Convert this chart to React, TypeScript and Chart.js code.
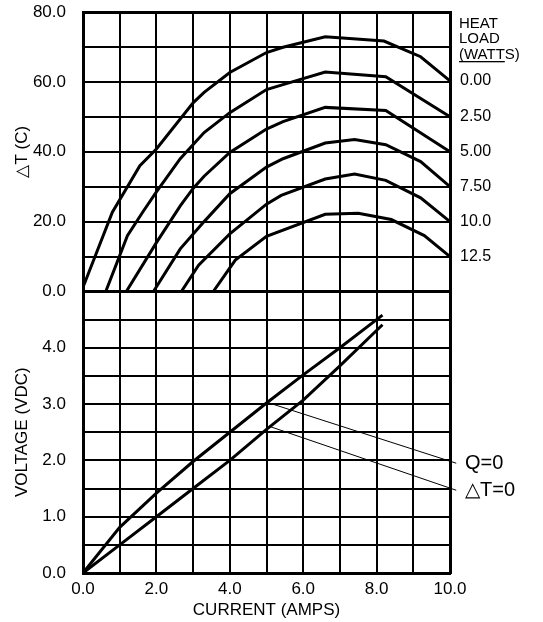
import React, { useEffect, useRef } from 'react';
import { Chart, registerables } from 'chart.js';

Chart.register(...registerables);

const FONT = "'Liberation Sans', Arial, Helvetica, sans-serif";

// Tick labels
const currentTickLabels = ['0.0', '', '2.0', '', '4.0', '', '6.0', '', '8.0', '', '10.0'];
const deltaTTickLabels = ['0.0', '', '20.0', '', '40.0', '', '60.0', '', '80.0'];
const voltageTickLabels = ['0.0', '', '1.0', '', '2.0', '', '3.0', '', '4.0', '', ''];
const heatLoadLabels = ['0.00', '2.50', '5.00', '7.50', '10.0', '12.5'];
const heatTitleLines = ['HEAT', 'LOAD', '(WATTS)'];
const heatTitleUnderlined = '(WATT';
const leaderLabels = ['Q=0', '\u25B3T=0'];

// ΔT (C) vs current (A) for each heat load
const dtLoad000: number[][] = [[0, 1.2], [0.8, 22.7], [1.55, 36], [2.0, 40.8], [3.0, 54], [3.3, 57], [4.0, 62.7], [5.0, 68.4], [5.45, 69.9], [6.6, 72.9], [8.2, 71.7], [9.2, 67.2], [10, 60.3]];
const dtLoad250: number[][] = [[0.62, 0], [1.21, 16], [1.62, 22.6], [2.0, 28.5], [2.65, 38], [3.3, 45.5], [4.0, 51.2], [5.0, 57.8], [5.45, 59.2], [6.6, 62.8], [8.25, 61.5], [10, 50]];
const dtLoad500: number[][] = [[1.18, 0], [2.0, 14], [2.65, 24.5], [3.0, 29.5], [3.3, 33], [4.0, 39.8], [5.0, 46.5], [5.45, 48.6], [6.6, 52.7], [8.25, 51.8], [10, 40]];
const dtLoad750: number[][] = [[1.92, 0], [2.65, 12.2], [3.3, 20], [4.0, 28], [5.0, 35.6], [5.45, 38], [6.6, 42.5], [7.4, 43.5], [8.25, 42], [9.2, 37.2], [10, 30]];
const dtLoad1000: number[][] = [[2.68, 0], [3.15, 7.5], [4.0, 16.5], [5.0, 25], [5.4, 27.5], [6.6, 32.2], [7.4, 33.6], [8.25, 31.8], [9.2, 26.8], [10, 20]];
const dtLoad1250: number[][] = [[3.55, 0], [4.15, 9], [5.0, 15.8], [6.6, 22.1], [7.5, 22.4], [8.4, 20.6], [9.3, 16], [10, 10]];

// Voltage (VDC) vs current (A)
const voltQ0: number[][] = [[0, 0], [1, 0.81], [2, 1.42], [3, 1.98], [4, 2.5], [5, 3.02], [6, 3.52], [7, 4.0], [8.16, 4.58]];
const voltDT0: number[][] = [[0, 0], [1, 0.5], [2, 1.0], [3, 1.5], [4, 2.0], [5, 2.55], [6, 3.07], [7, 3.68], [8.16, 4.41]];

// Leader lines to the Q=0 / ΔT=0 labels
const leaderQ0: number[][] = [[5.07, 3.02], [10.17, 1.95]];
const leaderDT0: number[][] = [[5.1, 2.6], [10.17, 1.47]];

const dtSeries = [dtLoad000, dtLoad250, dtLoad500, dtLoad750, dtLoad1000, dtLoad1250];
const leaderSeries = [leaderQ0, leaderDT0];

const toXY = (arr: number[][]) => arr.map(([x, y]) => ({ x, y }));

const heatTitlePlugin = {
  id: 'heatTitle',
  afterDraw(chart: any) {
    const { ctx, chartArea } = chart;
    ctx.save();
    ctx.font = `15px ${FONT}`;
    ctx.fillStyle = '#000';
    ctx.textAlign = 'left';
    ctx.textBaseline = 'alphabetic';
    const x = chartArea.right + 9;
    heatTitleLines.forEach((t, i) => ctx.fillText(t, x, chartArea.top + 15.5 + i * 15.5));
    const w = ctx.measureText(heatTitleUnderlined).width;
    ctx.fillRect(x, chartArea.top + 49, w, 1.3);
    ctx.restore();
  },
};

export default function App() {
  const ref = useRef<HTMLCanvasElement | null>(null);

  useEffect(() => {
    if (!ref.current) return;
    const black = '#000';
    const dtDatasets = dtSeries.map((s) => ({
      data: toXY(s),
      yAxisID: 'y',
      borderColor: black,
      borderWidth: 3,
      pointRadius: 0,
      tension: 0,
      fill: false,
    }));
    const vDatasets = [voltQ0, voltDT0].map((s) => ({
      data: toXY(s),
      yAxisID: 'y2',
      borderColor: black,
      borderWidth: 3,
      pointRadius: 0,
      tension: 0,
      fill: false,
    }));
    const leaderDatasets = leaderSeries.map((s) => ({
      data: toXY(s),
      yAxisID: 'y2',
      borderColor: black,
      borderWidth: 1,
      pointRadius: 0,
      tension: 0,
      fill: false,
      clip: false as any,
    }));

    const tickFont = { family: FONT, size: 17 };
    const clear = 'rgba(0,0,0,0)';
    const chart = new Chart(ref.current, {
      type: 'line',
      data: { datasets: [...dtDatasets, ...vDatasets, ...leaderDatasets] as any },
      options: {
        animation: false,
        responsive: false,
        layout: { padding: { top: 11, left: 0, right: 0, bottom: 0 } },
        plugins: { legend: { display: false }, tooltip: { enabled: false } },
        scales: {
          x: {
            type: 'linear',
            min: 0,
            max: 10,
            position: 'bottom',
            afterFit: (s: any) => { s.height = 49; },
            ticks: {
              stepSize: 1,
              autoSkip: false,
              maxRotation: 0,
              padding: 6,
              color: black,
              font: tickFont,
              callback: (_v: any, i: number) => currentTickLabels[i],
            },
            grid: { color: black, lineWidth: 2, drawTicks: false },
            border: { display: true, color: black, width: 3 },
            title: { display: true, text: 'CURRENT (AMPS)', color: black, font: tickFont, padding: { top: 0, bottom: 1 } },
          },
          y2: {
            type: 'linear',
            position: 'left',
            stack: 'left',
            stackWeight: 282,
            min: 0,
            max: 5,
            afterFit: (s: any) => { s.width = 83; },
            ticks: {
              stepSize: 0.5,
              autoSkip: false,
              padding: 0,
              color: black,
              font: tickFont,
              callback: (_v: any, i: number) => voltageTickLabels[i],
            },
            grid: {
              color: black,
              drawTicks: true,
              tickLength: 17,
              tickColor: clear,
              lineWidth: (c: any) => (c.tick && c.tick.value === 5 ? 3 : 2),
            },
            border: { display: true, color: black, width: 3 },
            title: { display: true, text: 'VOLTAGE (VDC)', color: black, font: tickFont, padding: { top: 12, bottom: 0 } },
          },
          y: {
            type: 'linear',
            position: 'left',
            stack: 'left',
            stackWeight: 280,
            min: 0,
            max: 80,
            afterFit: (s: any) => { s.width = 83; },
            ticks: {
              stepSize: 10,
              autoSkip: false,
              padding: 0,
              color: black,
              font: tickFont,
              callback: (_v: any, i: number) => deltaTTickLabels[i],
            },
            grid: {
              color: black,
              drawTicks: true,
              tickLength: 17,
              tickColor: clear,
              lineWidth: (c: any) => (c.tick && (c.tick.value === 80 || c.tick.value === 0) ? 3 : 2),
            },
            border: { display: true, color: black, width: 3 },
            title: { display: true, text: '\u25B3T (C)', color: black, font: tickFont, padding: { top: 12, bottom: 0 } },
          },
          yR: {
            type: 'linear',
            position: 'right',
            stack: 'right',
            stackWeight: 280,
            min: 0,
            max: 80,
            afterFit: (s: any) => { s.width = 93; },
            afterBuildTicks: (s: any) => {
              s.ticks = dtSeries.map((d) => ({ value: d[d.length - 1][1] }));
            },
            ticks: {
              autoSkip: false,
              padding: 0,
              color: black,
              font: { family: FONT, size: 16 },
              callback: (_v: any, i: number) => heatLoadLabels[i],
            },
            grid: { display: false, drawOnChartArea: false, drawTicks: true, tickLength: 10, tickColor: clear },
            border: { display: true, color: black, width: 3 },
          },
          yR2: {
            type: 'linear',
            position: 'right',
            stack: 'right',
            stackWeight: 282,
            min: 0,
            max: 5,
            afterFit: (s: any) => { s.width = 93; },
            afterBuildTicks: (s: any) => {
              s.ticks = leaderSeries.map((d) => ({ value: d[d.length - 1][1] }));
            },
            ticks: {
              autoSkip: false,
              padding: 0,
              color: black,
              font: { family: FONT, size: 20 },
              callback: (_v: any, i: number) => leaderLabels[i],
            },
            grid: { display: false, drawOnChartArea: false, drawTicks: true, tickLength: 15, tickColor: clear },
            border: { display: true, color: black, width: 3 },
          },
        },
      } as any,
      plugins: [heatTitlePlugin as any],
    });
    return () => chart.destroy();
  }, []);

  return (
    <div style={{ position: 'absolute', left: 0, top: 0, width: 543, height: 622, background: '#fff' }}>
      <canvas ref={ref} width={543} height={622} />
    </div>
  );
}
